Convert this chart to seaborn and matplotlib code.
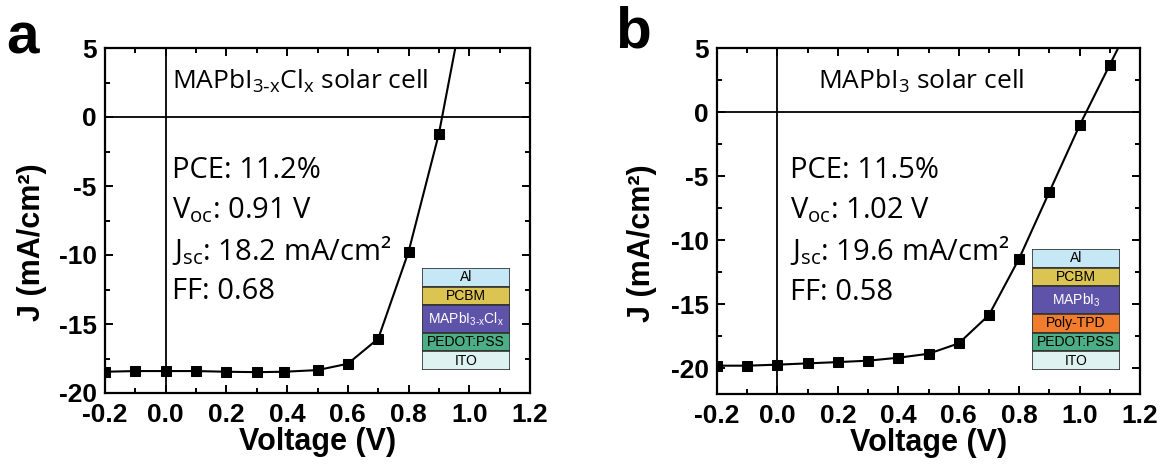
import matplotlib
matplotlib.use("Agg")
import matplotlib.pyplot as plt
import numpy as np
import seaborn as sns

# J-V data
volt_a = [-0.2, -0.1, 0.0, 0.1, 0.2, 0.3, 0.39, 0.5, 0.6, 0.7, 0.8, 0.9, 1.0]
curr_a = [-18.46, -18.41, -18.41, -18.41, -18.46, -18.49, -18.46, -18.34, -17.88, -16.06, -9.76, -1.20, 10.3]

volt_b = [-0.2, -0.1, 0.0, 0.1, 0.2, 0.3, 0.4, 0.5, 0.6, 0.7, 0.8, 0.9, 1.0, 1.1, 1.2]
curr_b = [-19.79, -19.79, -19.71, -19.61, -19.51, -19.40, -19.17, -18.86, -18.05, -15.84, -11.43, -6.23, -1.04, 3.69, 8.4]

title_a = r"MAPbI$_{\mathregular{3\text{-}x}}$Cl$_{\mathregular{x}}$ solar cell"
title_b = r"MAPbI$_{\mathregular{3}}$ solar cell"
stats_a = ["PCE: 11.2%", r"V$_{\mathregular{oc}}$: 0.91 V", r"J$_{\mathregular{sc}}$: 18.2 mA/cm²", "FF: 0.68"]
stats_b = ["PCE: 11.5%", r"V$_{\mathregular{oc}}$: 1.02 V", r"J$_{\mathregular{sc}}$: 19.6 mA/cm²", "FF: 0.58"]

# device stacks, top to bottom
layers_a = ["Al", "PCBM", r"MAPbI$_{\mathregular{3\text{-}x}}$Cl$_{\mathregular{x}}$", "PEDOT:PSS", "ITO"]
thick_a = [1.0, 1.0, 1.5, 1.0, 1.0]
colors_a = ["#c6e8f6", "#dcc452", "#5d53a8", "#4cae84", "#dff2f2"]
layers_b = ["Al", "PCBM", r"MAPbI$_{\mathregular{3}}$", "Poly-TPD", "PEDOT:PSS", "ITO"]
thick_b = [1.0, 1.0, 1.5, 1.0, 1.0, 1.0]
colors_b = ["#c6e8f6", "#dcc452", "#5d53a8", "#f07c2e", "#4cae84", "#dff2f2"]

sns.set_theme(style="ticks")
plt.rcParams["font.family"] = ["Liberation Sans", "DejaVu Sans"]
plt.rcParams["axes.unicode_minus"] = False
for key in ["text.color", "axes.labelcolor", "xtick.color", "ytick.color", "axes.edgecolor"]:
    plt.rcParams[key] = "black"

LABEL_FONT = ["Open Sans", "DejaVu Sans"]

fig = plt.figure(figsize=(11.63, 4.70), dpi=100)
ax_a = fig.add_axes([105 / 1163, 1 - 393 / 470, 425 / 1163, 345 / 470])
ax_b = fig.add_axes([717 / 1163, 1 - 394 / 470, 423 / 1163, 346 / 470])


def draw_panel(ax, v, j, ylim, title, title_x, stats, stats_x, ylab_x):
    ax.axhline(0, color="black", lw=1.3, zorder=1)
    ax.axvline(0, color="black", lw=1.3, zorder=1)
    sns.lineplot(x=v, y=j, ax=ax, color="black", lw=1.5, marker="s",
                 markersize=7, markeredgecolor="black", sort=False, zorder=3)
    ax.set_xlim(-0.2, 1.2)
    ax.set_ylim(*ylim)
    ax.set_xticks(np.arange(-0.2, 1.21, 0.2))
    ax.set_xticklabels([f"{t:.1f}" for t in np.arange(-0.2, 1.21, 0.2)])
    ax.set_xticks(np.arange(-0.1, 1.2, 0.2), minor=True)
    ax.set_yticks([-20, -15, -10, -5, 0, 5])
    ax.set_yticks([-17.5, -12.5, -7.5, -2.5, 2.5], minor=True)
    ax.tick_params(which="both", direction="in", top=True, right=True,
                   width=1.4, labelsize=19)
    ax.tick_params(axis="x", pad=7)
    ax.tick_params(axis="y", pad=6)
    ax.tick_params(which="major", length=6)
    ax.tick_params(which="minor", length=3.5)
    for lab in ax.get_xticklabels() + ax.get_yticklabels():
        lab.set_fontweight("bold")
    for s in ax.spines.values():
        s.set_linewidth(1.6)
        s.set_color("black")
    ax.set_xlabel("Voltage (V)", fontsize=22, fontweight="bold", labelpad=0)
    ax.set_ylabel("J (mA/cm²)", fontsize=22, fontweight="bold")
    ax.yaxis.set_label_coords(ylab_x, 0.436)
    ax.text(title_x, 0.905, title, transform=ax.transAxes, fontsize=19,
            family=LABEL_FONT, va="center", ha="left")
    for yy, s in zip([0.645, 0.530, 0.414, 0.293], stats):
        ax.text(stats_x, yy, s, transform=ax.transAxes, fontsize=21,
                family=LABEL_FONT, va="center", ha="left")


def draw_stack(rect, names, thick, colors):
    ins = fig.add_axes(rect)
    bottoms = np.cumsum([0] + thick[::-1])[:-1][::-1]
    ins.bar([0] * len(names), thick, bottom=bottoms, width=1.0, color=colors,
            edgecolor="#333333", linewidth=1.2)
    for name, b, t, c in zip(names, bottoms, thick, colors):
        ins.text(0, b + t / 2, name, ha="center", va="center", fontsize=10,
                 color="white" if c == "#5d53a8" else "black")
    ins.set_xlim(-0.5, 0.5)
    ins.set_ylim(0, sum(thick))
    ins.axis("off")


draw_panel(ax_a, volt_a, curr_a, (-20, 5), title_a, 0.158, stats_a, 0.158, -0.136)
draw_panel(ax_b, volt_b, curr_b, (-22, 5), title_b, 0.239, stats_b, 0.173, -0.142)

draw_stack([422 / 1163, 1 - 370 / 470, 88 / 1163, 102 / 470], layers_a, thick_a, colors_a)
draw_stack([1032 / 1163, 1 - 370 / 470, 88 / 1163, 121 / 470], layers_b, thick_b, colors_b)

fig.text(23 / 1163, 1 - 39 / 470, "a", fontsize=42, fontweight="bold", ha="center", va="center")
fig.text(633 / 1163, 1 - 33 / 470, "b", fontsize=42, fontweight="bold", ha="center", va="center")

fig.savefig("out.png", dpi=100)
